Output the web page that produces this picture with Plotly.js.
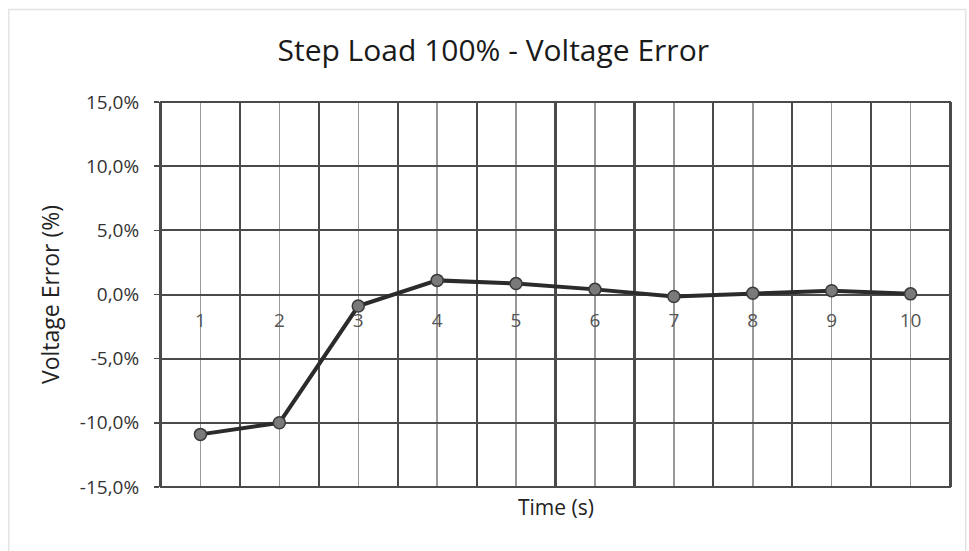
<!DOCTYPE html>
<html>
<head>
<meta charset="utf-8">
<script src="https://cdn.plot.ly/plotly-3.0.1.min.js"></script>
<style>html,body{margin:0;padding:0;background:#fff;}#chart{width:969px;height:551px;}</style>
</head>
<body>
<div id="chart"></div>
<script>
// Data
const timeSeconds = [1, 2, 3, 4, 5, 6, 7, 8, 9, 10];
const timeLabels = ['1', '2', '3', '4', '5', '6', '7', '8', '9', '10'];
const voltageError = [-10.9, -10.0, -0.9, 1.1, 0.85, 0.4, -0.15, 0.1, 0.3, 0.05];
const yTickValues = [-15, -10, -5, 0, 5, 10, 15];
const yTickLabels = ['-15,0%', '-10,0%', '-5,0%', '0,0%', '5,0%', '10,0%', '15,0%'];

const boundaries = timeSeconds.map(t => t - 0.5).concat([timeSeconds[timeSeconds.length - 1] + 0.5]);
const xRange = [boundaries[0], boundaries[boundaries.length - 1]];

const font = '"Open Sans", Lato, "Liberation Sans", sans-serif';

const trace = {
  x: timeSeconds,
  y: voltageError,
  type: 'scatter',
  mode: 'lines+markers',
  line: {color: '#2b2b2b', width: 4},
  marker: {size: 12, color: '#7a7a7a', line: {color: '#3a3a3a', width: 1.5}},
  hoverinfo: 'skip',
  showlegend: false
};

const layout = {
  width: 969,
  height: 551,
  margin: {l: 161, r: 19, t: 102, b: 64},
  paper_bgcolor: '#ffffff',
  plot_bgcolor: '#ffffff',
  font: {family: font, color: '#333'},
  title: {
    text: 'Step Load 100% - Voltage Error',
    font: {family: font, size: 30, color: '#1a1a1a'},
    x: 0.509, xanchor: 'center', xref: 'container',
    y: 0.909, yanchor: 'middle', yref: 'container'
  },
  xaxis: {
    range: xRange,
    anchor: 'free',
    position: 0.5,
    tickmode: 'array',
    tickvals: timeSeconds,
    ticktext: timeLabels,
    ticks: '',
    ticklabelstandoff: 12,
    tickfont: {family: font, size: 19, color: '#555'},
    showline: false,
    zeroline: false,
    showgrid: true,
    gridcolor: '#9a9a9a',
    gridwidth: 1.5,
    minor: {
      tickmode: 'array',
      tickvals: boundaries,
      showgrid: true,
      gridcolor: '#4a4a4a',
      gridwidth: 2.2,
      ticks: ''
    },
    fixedrange: true
  },
  yaxis: {
    range: [yTickValues[0], yTickValues[yTickValues.length - 1]],
    tickmode: 'array',
    tickvals: yTickValues,
    ticktext: yTickLabels,
    ticks: 'outside',
    ticklen: 5,
    tickcolor: '#4a4a4a',
    tickwidth: 1.5,
    ticklabelstandoff: 11,
    tickfont: {family: font, size: 19, color: '#333'},
    showline: true,
    linecolor: '#4a4a4a',
    linewidth: 2,
    mirror: true,
    zeroline: false,
    showgrid: true,
    gridcolor: '#4a4a4a',
    gridwidth: 2,
    title: {
      text: 'Voltage Error (%)',
      font: {family: font, size: 23, color: '#222'},
      standoff: 14
    },
    fixedrange: true
  },
  annotations: [{
    text: 'Time (s)',
    xref: 'paper', yref: 'paper',
    x: 0.5, y: 0,
    xanchor: 'center', yanchor: 'top',
    yshift: -4,
    showarrow: false,
    font: {family: font, size: 21, color: '#222'}
  }],
  shapes: [
    {type: 'rect', xref: 'paper', yref: 'paper', x0: 0, x1: 1, y0: 0, y1: 1,
     line: {color: '#4a4a4a', width: 2}, fillcolor: 'rgba(0,0,0,0)', layer: 'above'},
    {type: 'rect', xref: 'paper', yref: 'paper', x0: -0.193, x1: 1.02, y0: -0.17, y1: 1.24,
     line: {color: '#e4e4e4', width: 1.5}, fillcolor: 'rgba(0,0,0,0)', layer: 'below'}
  ]
};

Plotly.newPlot('chart', [trace], layout, {displayModeBar: false, staticPlot: true});
</script>
</body>
</html>
